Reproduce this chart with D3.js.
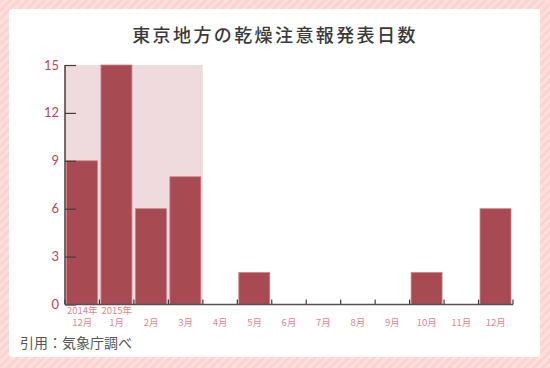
<!DOCTYPE html>
<html><head><meta charset="utf-8">
<script src="https://cdn.jsdelivr.net/npm/d3@7/dist/d3.min.js"></script>
<style>
html,body{margin:0;padding:0;background:#fff;}
svg{display:block;font-family:"Noto Sans CJK JP","Noto Sans",sans-serif;}
</style></head>
<body><svg id="c" width="550" height="368"></svg>
<script>
const title = "東京地方の乾燥注意報発表日数";
const source = "引用：気象庁調べ";
const monthsTop = ["2014年","2015年","","","","","","","","","","",""];
const monthsBottom = ["12月","1月","2月","3月","4月","5月","6月","7月","8月","9月","10月","11月","12月"];
const days = [9,15,6,8,0,2,0,0,0,0,2,0,6];
const yTicks = [0,3,6,9,12,15];
const highlightCount = 4;

const svg = d3.select("#c");
const defs = svg.append("defs");
const pat = defs.append("pattern").attr("id","stripe").attr("patternUnits","userSpaceOnUse")
  .attr("width",6).attr("height",6).attr("patternTransform","rotate(45)");
pat.append("rect").attr("width",6).attr("height",6).attr("fill","#ffe0df");
pat.append("rect").attr("width",3).attr("height",6).attr("fill","#ffd2d1");

svg.append("rect").attr("width",550).attr("height",368).attr("fill","url(#stripe)");
svg.append("rect").attr("x",9).attr("y",9).attr("width",531).attr("height",348).attr("rx",3).attr("fill","#fff");

svg.append("text").attr("x",275).attr("y",42).attr("text-anchor","middle")
  .attr("font-size",18).attr("font-weight",500).attr("letter-spacing","2.4px")
  .attr("fill","#3a3a3a").text(title);

const pL = 65, pR = 513, pT = 65, pB = 304.5;
const x = d3.scaleBand().domain(d3.range(days.length)).range([pL,pR]).paddingInner(0.1).paddingOuter(0.05);
const step = x.step();
const y = d3.scaleLinear().domain([0,15]).range([pB,pT]);

svg.append("rect").attr("x",pL).attr("y",y(15)).attr("width",step*highlightCount)
  .attr("height",y(0)-y(15)).attr("fill","#efdbdd");

svg.append("g").selectAll("rect.bar").data(days).join("rect").attr("class","bar")
  .attr("x",(d,i)=>pL + i*step + 1.5)
  .attr("width",step-3.5)
  .attr("y",d=>y(d)).attr("height",d=>y(0)-y(d))
  .attr("fill","#a84a52").attr("stroke","#c98289").attr("stroke-width",0.8);

const yAxis = d3.axisRight(y).tickValues(yTicks).tickSize(11).tickFormat("");
const ya = svg.append("g").attr("transform",`translate(${pL},0)`).call(yAxis);
ya.select(".domain").remove();
ya.selectAll(".tick line").attr("stroke","#4a3a3a").attr("stroke-width",1.2);
svg.append("line").attr("x1",pL).attr("x2",pL).attr("y1",pT).attr("y2",pB)
  .attr("stroke","#4a3a3a").attr("stroke-width",1.5);
svg.selectAll("text.ylab").data(yTicks).join("text").attr("class","ylab")
  .attr("x",59).attr("y",d=>y(d)+4.5).attr("text-anchor","end")
  .attr("font-size",13).attr("fill","#c0454e").attr("font-family","Lato,'Noto Sans',sans-serif").text(d=>d);

const bounds = d3.range(days.length+1).map(i=>pL+i*step);
svg.append("line").attr("x1",pL).attr("x2",pR).attr("y1",pB).attr("y2",pB)
  .attr("stroke","#5a5050").attr("stroke-width",1.5);
svg.selectAll("line.xt").data(bounds).join("line").attr("class","xt")
  .attr("x1",d=>d).attr("x2",d=>d).attr("y1",pB).attr("y2",pB-5)
  .attr("stroke","#4a3a3a").attr("stroke-width",1.2);

const xl = svg.append("g").attr("font-size",9.5).attr("fill","#e0868d").attr("text-anchor","middle");
xl.selectAll("text.xlab").data(monthsBottom).join("text").attr("class","xlab")
  .each(function(d,i){
    const t = d3.select(this);
    const cx = pL+(i+0.5)*step;
    if (monthsTop[i]) {
      t.attr("x",cx).attr("y",314);
      t.append("tspan").attr("x",cx).attr("y",314).text(monthsTop[i]);
      t.append("tspan").attr("x",cx).attr("y",326).text(d);
    } else {
      t.attr("x",cx).attr("y",326).text(d);
    }
  });

svg.append("text").attr("x",20).attr("y",348).attr("font-size",14)
  .attr("fill","#555").text(source);
</script></body></html>
